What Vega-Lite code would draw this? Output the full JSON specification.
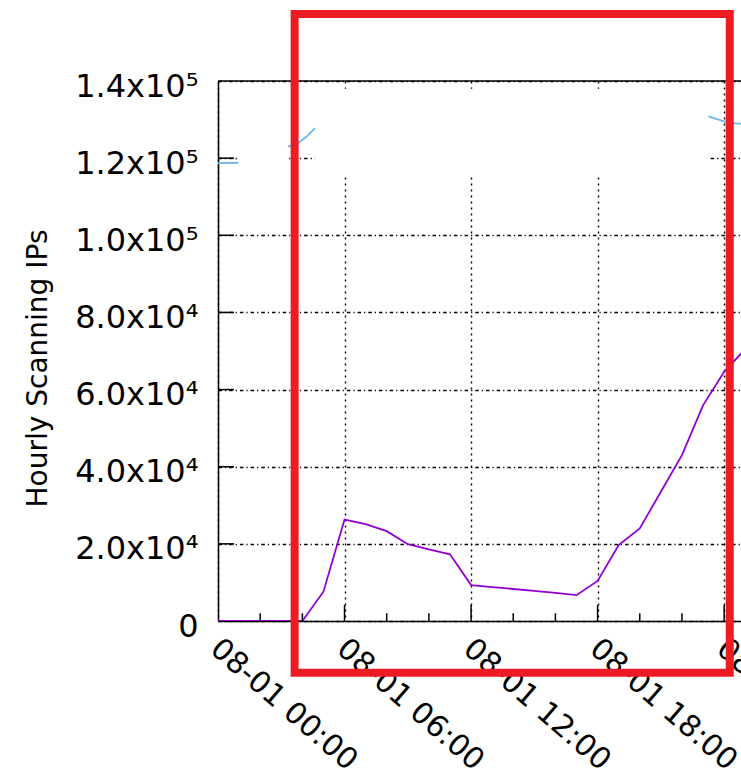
{
  "$schema": "https://vega.github.io/schema/vega-lite/v6.json",
  "width": 523,
  "height": 540,
  "autosize": {"type": "none"},
  "padding": {"left": 218, "top": 81, "right": 0, "bottom": 157},
  "background": "white",
  "config": {"view": {"stroke": null}},
  "encoding": {
    "x": {
      "field": "t",
      "type": "temporal",
      "scale": {"domain": [
        {"year": 2016, "month": 8, "date": 1, "hours": 0, "minutes": 0},
        {"year": 2016, "month": 8, "date": 2, "hours": 0, "minutes": 48}
      ]},
      "axis": {
        "title": null,
        "values": [
          {"year": 2016, "month": 8, "date": 1, "hours": 0},
          {"year": 2016, "month": 8, "date": 1, "hours": 6},
          {"year": 2016, "month": 8, "date": 1, "hours": 12},
          {"year": 2016, "month": 8, "date": 1, "hours": 18},
          {"year": 2016, "month": 8, "date": 2, "hours": 0}
        ],
        "labelExpr": "timeFormat(datum.value, '%m-%d %H:%M')",
        "labelAngle": 41,
        "labelAlign": "left",
        "labelBaseline": "top",
        "labelPadding": 12,
        "labelOffset": 6,
        "labelLimit": 0,
        "labelFont": "DejaVu Sans",
        "labelFontSize": 30,
        "labelColor": "#000000",
        "labelFlush": false,
        "labelOverlap": false,
        "labelBound": false,
        "ticks": false,
        "domainColor": "#000000",
        "domainWidth": 1.5,
        "grid": true,
        "gridColor": "#000000",
        "gridWidth": 1.4,
        "gridDash": [2, 4],
        "gridOpacity": 1
      }
    },
    "y": {
      "field": "v",
      "type": "quantitative",
      "scale": {"domain": [0, 140000], "nice": false},
      "axis": {
        "title": "Hourly Scanning IPs",
        "titleFont": "DejaVu Sans",
        "titleFontSize": 28,
        "titleFontWeight": "normal",
        "titleColor": "#000000",
        "titleAngle": 270,
        "titleAlign": "center",
        "titleBaseline": "alphabetic",
        "titleX": -172,
        "titleY": 287,
        "values": [0, 20000, 40000, 60000, 80000, 100000, 120000, 140000],
        "labelExpr": "datum.value == 0 ? '0' : (datum.value < 100000 ? format(datum.value / 10000, '.1f') + 'x10⁴' : format(datum.value / 100000, '.1f') + 'x10⁵')",
        "labelFont": "DejaVu Sans",
        "labelFontSize": 32,
        "labelColor": "#000000",
        "labelLimit": 0,
        "labelPadding": 20,
        "labelOffset": 5,
        "labelFlush": false,
        "labelOverlap": false,
        "labelBound": false,
        "ticks": false,
        "domainColor": "#000000",
        "domainWidth": 1.5,
        "grid": true,
        "gridColor": "#000000",
        "gridWidth": 1.4,
        "gridDash": [3.5, 3, 1.2, 3],
        "gridOpacity": 1
      }
    }
  },
  "layer": [
    {
      "data": {"values": [
        {"t": "2016-08-01T01:00:00", "t2": "2016-08-01T03:19:00", "v": 115700, "v2": 138000},
        {"t": "2016-08-01T04:36:00", "t2": "2016-08-01T23:15:00", "v": 115700, "v2": 138000}
      ]},
      "mark": {"type": "rect", "fill": "#ffffff", "strokeWidth": 0},
      "encoding": {"x2": {"field": "t2"}, "y2": {"field": "v2"}}
    },
    {
      "data": {"values": [
        {"t": "2016-08-01T00:00:00", "v": 0, "s": "p", "seg": "p"},
        {"t": "2016-08-01T01:00:00", "v": 0, "s": "p", "seg": "p"},
        {"t": "2016-08-01T02:00:00", "v": 0, "s": "p", "seg": "p"},
        {"t": "2016-08-01T03:00:00", "v": 0, "s": "p", "seg": "p"},
        {"t": "2016-08-01T04:00:00", "v": 0, "s": "p", "seg": "p"},
        {"t": "2016-08-01T05:00:00", "v": 7600, "s": "p", "seg": "p"},
        {"t": "2016-08-01T06:00:00", "v": 26300, "s": "p", "seg": "p"},
        {"t": "2016-08-01T07:00:00", "v": 25100, "s": "p", "seg": "p"},
        {"t": "2016-08-01T08:00:00", "v": 23300, "s": "p", "seg": "p"},
        {"t": "2016-08-01T09:00:00", "v": 19900, "s": "p", "seg": "p"},
        {"t": "2016-08-01T10:00:00", "v": 18600, "s": "p", "seg": "p"},
        {"t": "2016-08-01T11:00:00", "v": 17300, "s": "p", "seg": "p"},
        {"t": "2016-08-01T12:00:00", "v": 9300, "s": "p", "seg": "p"},
        {"t": "2016-08-01T13:00:00", "v": 8800, "s": "p", "seg": "p"},
        {"t": "2016-08-01T14:00:00", "v": 8300, "s": "p", "seg": "p"},
        {"t": "2016-08-01T15:00:00", "v": 7800, "s": "p", "seg": "p"},
        {"t": "2016-08-01T16:00:00", "v": 7300, "s": "p", "seg": "p"},
        {"t": "2016-08-01T17:00:00", "v": 6700, "s": "p", "seg": "p"},
        {"t": "2016-08-01T18:00:00", "v": 10400, "s": "p", "seg": "p"},
        {"t": "2016-08-01T19:00:00", "v": 19700, "s": "p", "seg": "p"},
        {"t": "2016-08-01T20:00:00", "v": 24000, "s": "p", "seg": "p"},
        {"t": "2016-08-01T21:00:00", "v": 33500, "s": "p", "seg": "p"},
        {"t": "2016-08-01T22:00:00", "v": 43000, "s": "p", "seg": "p"},
        {"t": "2016-08-01T23:00:00", "v": 55900, "s": "p", "seg": "p"},
        {"t": "2016-08-02T00:00:00", "v": 64600, "s": "p", "seg": "p"},
        {"t": "2016-08-02T01:00:00", "v": 70500, "s": "p", "seg": "p"},
        {"t": "2016-08-01T00:00:00", "v": 118700, "s": "b", "seg": "b1"},
        {"t": "2016-08-01T00:58:00", "v": 118800, "s": "b", "seg": "b1"},
        {"t": "2016-08-01T03:19:00", "v": 123000, "s": "b", "seg": "b2"},
        {"t": "2016-08-01T03:47:00", "v": 123900, "s": "b", "seg": "b2"},
        {"t": "2016-08-01T04:12:00", "v": 125600, "s": "b", "seg": "b2"},
        {"t": "2016-08-01T04:36:00", "v": 127800, "s": "b", "seg": "b2"},
        {"t": "2016-08-01T23:15:00", "v": 130800, "s": "b", "seg": "b3"},
        {"t": "2016-08-02T00:02:00", "v": 129500, "s": "b", "seg": "b3"},
        {"t": "2016-08-02T00:29:00", "v": 129100, "s": "b", "seg": "b3"},
        {"t": "2016-08-02T00:48:00", "v": 128900, "s": "b", "seg": "b3"}
      ]},
      "mark": {"type": "line", "strokeWidth": 1.8, "clip": true},
      "encoding": {
        "color": {"field": "s", "type": "nominal", "scale": {"domain": ["p", "b"], "range": ["#9400d3", "#6bb7e9"]}, "legend": null},
        "detail": {"field": "seg"}
      }
    },
    {
      "data": {"values": [
        {"t": "2016-08-01T02:00:00", "v": 0, "v2": 2000},
        {"t": "2016-08-01T04:00:00", "v": 0, "v2": 2000},
        {"t": "2016-08-01T06:00:00", "v": 0, "v2": 4150},
        {"t": "2016-08-01T08:00:00", "v": 0, "v2": 2000},
        {"t": "2016-08-01T10:00:00", "v": 0, "v2": 2000},
        {"t": "2016-08-01T12:00:00", "v": 0, "v2": 4150},
        {"t": "2016-08-01T14:00:00", "v": 0, "v2": 2000},
        {"t": "2016-08-01T16:00:00", "v": 0, "v2": 2000},
        {"t": "2016-08-01T18:00:00", "v": 0, "v2": 4150},
        {"t": "2016-08-01T20:00:00", "v": 0, "v2": 2000},
        {"t": "2016-08-01T22:00:00", "v": 0, "v2": 2000},
        {"t": "2016-08-02T00:00:00", "v": 0, "v2": 4150}
      ]},
      "mark": {"type": "rule", "color": "#000000", "strokeWidth": 1.5},
      "encoding": {"y2": {"field": "v2"}}
    },
    {
      "data": {"values": [
        {"t": "2016-08-01T00:00:00", "t2": "2016-08-01T00:45:30", "v": 20000},
        {"t": "2016-08-01T00:00:00", "t2": "2016-08-01T00:45:30", "v": 40000},
        {"t": "2016-08-01T00:00:00", "t2": "2016-08-01T00:45:30", "v": 60000},
        {"t": "2016-08-01T00:00:00", "t2": "2016-08-01T00:45:30", "v": 80000},
        {"t": "2016-08-01T00:00:00", "t2": "2016-08-01T00:45:30", "v": 100000},
        {"t": "2016-08-01T00:00:00", "t2": "2016-08-01T00:45:30", "v": 120000},
        {"t": "2016-08-01T00:00:00", "t2": "2016-08-02T00:48:00", "v": 140000}
      ]},
      "mark": {"type": "rule", "color": "#000000", "strokeWidth": 1.5},
      "encoding": {"x2": {"field": "t2"}}
    },
    {
      "data": {"values": [
        {"t": "2016-08-01T03:38:00", "t2": "2016-08-02T00:16:00", "v": -13400, "v2": 157400}
      ]},
      "mark": {"type": "rect", "fillOpacity": 0, "stroke": "#ed1c24", "strokeWidth": 8, "clip": false},
      "encoding": {"x2": {"field": "t2"}, "y2": {"field": "v2"}}
    }
  ]
}
